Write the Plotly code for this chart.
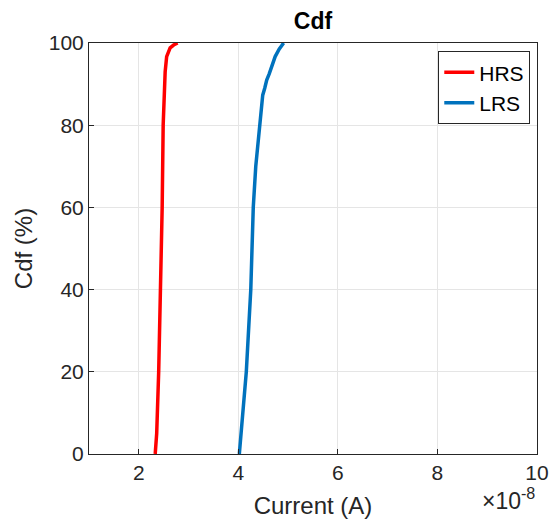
import plotly.graph_objects as go

# HRS distribution (current in units of 1e-8 A, cumulative percent)
hrs_current = [2.33, 2.36, 2.40, 2.44, 2.47, 2.49, 2.51, 2.53, 2.56, 2.58, 2.60, 2.63, 2.70, 2.78]
hrs_cdf = [0, 5, 20, 40, 60, 80, 87, 93, 96.7, 97.5, 97.8, 98.8, 99.5, 100]

# LRS distribution
lrs_current = [4.02, 4.09, 4.16, 4.25, 4.30, 4.35, 4.39, 4.43, 4.44, 4.46, 4.48, 4.49, 4.53, 4.57, 4.62, 4.66, 4.70, 4.74, 4.82, 4.91]
lrs_cdf = [0, 10, 20, 40, 60, 70, 75, 80, 81, 83, 85, 87.3, 89, 91, 92.5, 94, 95.5, 96.7, 98.5, 100]

scale = 1e-8
x_ticks = [2, 4, 6, 8, 10]
y_ticks = [0, 20, 40, 60, 80, 100]

fig = go.Figure()
fig.add_trace(go.Scatter(x=[v * scale for v in hrs_current], y=hrs_cdf, mode="lines",
                         name="HRS", line=dict(color="#FF0000", width=3.5)))
fig.add_trace(go.Scatter(x=[v * scale for v in lrs_current], y=lrs_cdf, mode="lines",
                         name="LRS", line=dict(color="#0072BD", width=3.5)))

font_family = "Liberation Sans, Arial, sans-serif"
fig.update_layout(
    width=550, height=523,
    margin=dict(l=89, r=13, t=43, b=69, autoexpand=False),
    paper_bgcolor="white", plot_bgcolor="white",
    font=dict(family=font_family, size=22, color="#262626"),
    title=dict(text="<b>Cdf</b>", x=0.5, xanchor="center", xref="paper",
               y=1, yref="container", yanchor="top", pad=dict(t=13),
               font=dict(size=23, color="black")),
    xaxis=dict(range=[1 * scale, 10 * scale], tickvals=[v * scale for v in x_ticks],
               ticktext=[str(v) for v in x_ticks],
               showgrid=True, gridcolor="#E5E5E5", gridwidth=1,
               showline=True, linecolor="#262626", linewidth=1, mirror=True,
               ticks="inside", ticklen=5, tickcolor="#262626", automargin=False,
               tickfont=dict(size=21),
               title=dict(text="Current (A)", standoff=13, font=dict(size=24)), zeroline=False),
    yaxis=dict(range=[0, 100], tickvals=y_ticks,
               showgrid=True, gridcolor="#E5E5E5", gridwidth=1,
               showline=True, linecolor="#262626", linewidth=1, mirror=True,
               ticks="inside", ticklen=5, tickcolor="#262626", automargin=False,
               tickfont=dict(size=21),
               title=dict(text="Cdf (%)", standoff=9, font=dict(size=24)), zeroline=False),
    legend=dict(x=0.985, y=0.98, xanchor="right", yanchor="top",
                bgcolor="white", bordercolor="#262626", borderwidth=1,
                font=dict(size=21, color="black"), tracegroupgap=0,
                itemwidth=30),
    showlegend=True,
)
fig.add_annotation(text="×10<sup>-8</sup>", xref="paper", yref="paper",
                   x=1.0, y=-0.067, xanchor="right", yanchor="top", showarrow=False,
                   font=dict(size=23, color="#262626"))

fig.write_html("out.html", config={"displayModeBar": False},
               post_script="document.body.style.margin='0';")
